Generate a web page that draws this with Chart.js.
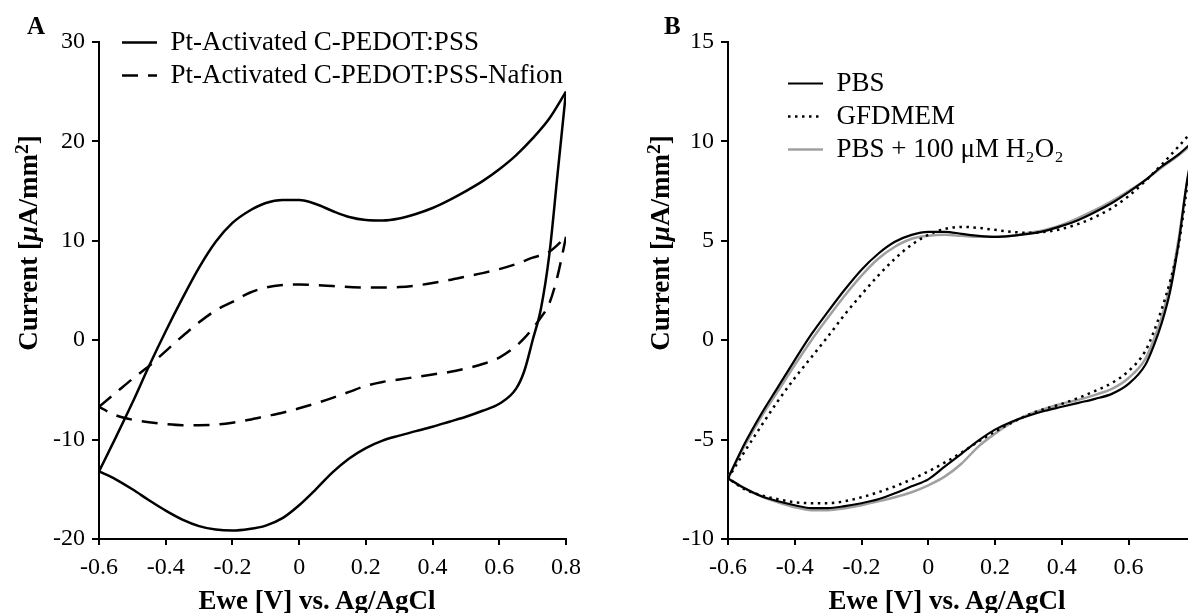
<!DOCTYPE html>
<html>
<head>
<meta charset="utf-8">
<title>Cyclic voltammograms</title>
<script src="https://cdn.jsdelivr.net/npm/chart.js@4.4.1/dist/chart.umd.min.js"></script>
<style>
  html, body { margin: 0; padding: 0; background: #fff; overflow: hidden; }
  body { position: relative; width: 1188px; height: 613px; font-family: 'Liberation Serif', 'Times New Roman', serif; color: #000; }
  .panel { position: absolute; top: 0; height: 613px; }
  #panelA { left: 0; width: 590px; }
  #panelB { left: 600px; width: 588px; }
  .letter { position: absolute; font-weight: bold; font-size: 25px; line-height: 1; }
  .ytitle, .xtitle { position: absolute; white-space: nowrap; font-weight: bold; font-size: 27px; line-height: 1; }
  .ytitle { transform: translate(-50%, -50%) rotate(-90deg); }
  .xtitle { transform: translate(-50%, -50%); }
  .ytitle sup { font-size: 0.72em; position: relative; top: -0.15em; vertical-align: top; }
</style>
</head>
<body>
<div class="panel" id="panelA"><canvas id="chartA" width="590" height="613"></canvas></div>
<div class="panel" id="panelB"><canvas id="chartB" width="588" height="613"></canvas></div>
<div class="letter" style="left:27px; top:13px">A</div>
<div class="letter" style="left:664px; top:13px">B</div>
<div class="ytitle" style="left:28px; top:243px">Current [<i>μ</i>A/mm<sup>2</sup>]</div>
<div class="ytitle" style="left:660px; top:243px">Current [<i>μ</i>A/mm<sup>2</sup>]</div>
<div class="xtitle" style="left:317px; top:600px">Ewe [V] vs. Ag/AgCl</div>
<div class="xtitle" style="left:947px; top:600px">Ewe [V] vs. Ag/AgCl</div>

<script>
// Potential steps (V vs Ag/AgCl): anodic sweep and cathodic sweep
const vForward = [-0.6, -0.55, -0.5, -0.45, -0.4, -0.35, -0.3, -0.25, -0.2, -0.15, -0.1, -0.05, 0,
                  0.05, 0.1, 0.15, 0.2, 0.25, 0.3, 0.35, 0.4, 0.45, 0.5, 0.55, 0.6, 0.65, 0.7, 0.75, 0.8];
const vReverse = [0.8, 0.775, 0.75, 0.725, 0.7, 0.675, 0.65, 0.6, 0.55, 0.5, 0.45, 0.4, 0.35, 0.3, 0.25, 0.2,
                  0.15, 0.1, 0.05, 0, -0.05, -0.1, -0.15, -0.2, -0.25, -0.3, -0.35, -0.4, -0.45, -0.5, -0.55, -0.6];

// Panel A currents (uA/mm2)
const pedotFwd = [-13.2, -9.8, -6.3, -2.6, 0.9, 4.2, 7.3, 9.9, 11.8, 13.0, 13.8, 14.1, 14.1,
                  13.7, 13.0, 12.4, 12.1, 12.05, 12.25, 12.7, 13.3, 14.1, 15.0, 16.0, 17.2, 18.6, 20.3, 22.3, 25.0];
const pedotRev = [25.0, 16.8, 8.6, 3.2, 0.0, -3.1, -4.9, -6.4, -7.1, -7.7, -8.2, -8.7, -9.15, -9.6, -10.1, -10.85,
                  -11.9, -13.3, -15.0, -16.6, -17.9, -18.65, -19.0, -19.15, -19.05, -18.7, -18.05, -17.15, -16.1, -15.0, -14.0, -13.2];
const nafionFwd = [-6.7, -5.3, -3.9, -2.6, -1.1, 0.4, 1.8, 3.0, 3.85, 4.75, 5.3, 5.55, 5.6,
                   5.55, 5.45, 5.35, 5.3, 5.3, 5.35, 5.5, 5.75, 6.05, 6.4, 6.75, 7.15, 7.65, 8.3, 8.9, 10.4];
const nafionRev = [10.4, 6.5, 3.7, 2.3, 1.2, 0.2, -0.6, -1.75, -2.4, -2.85, -3.2, -3.45, -3.7, -3.95, -4.2, -4.6,
                   -5.2, -5.8, -6.35, -6.85, -7.3, -7.65, -8.0, -8.3, -8.5, -8.55, -8.55, -8.45, -8.25, -8.0, -7.55, -6.7];

// Panel B currents (uA/mm2)
const pbsFwd = [-6.95, -5.2, -3.7, -2.35, -1.0, 0.3, 1.45, 2.55, 3.55, 4.35, 4.95, 5.3, 5.45,
                5.45, 5.35, 5.25, 5.2, 5.25, 5.35, 5.5, 5.75, 6.05, 6.45, 6.9, 7.45, 8.05, 8.75, 9.35, 10.1];
const pbsRev = [10.1, 8.0, 4.9, 2.5, 0.9, -0.3, -1.25, -2.2, -2.7, -2.95, -3.15, -3.35, -3.55, -3.8, -4.1, -4.5,
                -5.05, -5.7, -6.35, -7.0, -7.35, -7.7, -8.0, -8.2, -8.35, -8.45, -8.45, -8.3, -8.1, -7.85, -7.45, -6.95];
const gfdmemFwd = [-6.95, -5.6, -4.3, -3.05, -1.9, -0.85, 0.2, 1.3, 2.3, 3.25, 4.1, 4.8, 5.3,
                   5.6, 5.7, 5.65, 5.55, 5.45, 5.4, 5.45, 5.6, 5.85, 6.2, 6.65, 7.25, 8.0, 8.85, 9.75, 10.7];
const gfdmemRev = [10.7, 7.7, 4.8, 3.0, 1.6, 0.4, -0.55, -1.55, -2.15, -2.55, -2.9, -3.2, -3.45, -3.75, -4.15, -4.6,
                   -5.1, -5.65, -6.15, -6.6, -7.0, -7.35, -7.65, -7.9, -8.1, -8.2, -8.2, -8.15, -8.0, -7.8, -7.5, -6.95];
const h2o2Fwd = [-6.95, -5.3, -3.85, -2.55, -1.25, 0.0, 1.15, 2.25, 3.25, 4.1, 4.7, 5.1, 5.25,
                 5.3, 5.25, 5.2, 5.2, 5.25, 5.4, 5.55, 5.8, 6.15, 6.55, 7.0, 7.5, 8.05, 8.7, 9.3, 10.0];
const h2o2Rev = [10.0, 7.9, 5.1, 2.8, 1.2, 0.0, -0.95, -1.9, -2.45, -2.75, -3.0, -3.2, -3.45, -3.75, -4.15, -4.7,
                 -5.35, -6.2, -6.85, -7.3, -7.65, -7.9, -8.1, -8.3, -8.45, -8.55, -8.55, -8.4, -8.15, -7.85, -7.45, -6.95];

// Tick values
const ticksXA = [-0.6, -0.4, -0.2, 0, 0.2, 0.4, 0.6, 0.8];
const ticksYA = [-20, -10, 0, 10, 20, 30];
const ticksXB = [-0.6, -0.4, -0.2, 0, 0.2, 0.4, 0.6];
const ticksYB = [-10, -5, 0, 5, 10, 15];

const serif = 'Liberation Serif';

function toPoints(v, i) {
    return v.map((x, k) => ({ x: x, y: i[k] }));
}

// one CV loop = anodic + cathodic sweep (split so the vertex stays sharp)
function cvLoop(label, fwd, rev, style) {
    return [
        Object.assign({ label: label, data: toPoints(vForward, fwd) }, style),
        Object.assign({ label: label, data: toPoints(vReverse, rev), hideInLegend: true }, style)
    ];
}

function fmt(v) {
    return String(Number(Number(v).toFixed(1)));
}

// legend samples should copy the dataset line (dash, width)
function legendItems(chart) {
    return Chart.defaults.plugins.legend.labels.generateLabels(chart)
        .filter(item => !chart.data.datasets[item.datasetIndex].hideInLegend)
        .map(item => {
            const ds = chart.data.datasets[item.datasetIndex];
            item.lineDash = ds.borderDash || [];
            item.lineWidth = ds.borderWidth;
            item.strokeStyle = ds.borderColor;
            return item;
        });
}

// put the legend where the figure has it
function legendAt(left, top) {
    return {
        id: 'legendAt',
        afterLayout(chart) {
            const lg = chart.legend;
            lg.left = left;
            lg.top = top;
            lg.right = left + lg.width;
            lg.bottom = top + 400;
        }
    };
}

function makeChart(canvasId, datasets, cfg) {
    return new Chart(document.getElementById(canvasId), {
        type: 'scatter',
        data: { datasets: datasets },
        options: {
            animation: false,
            responsive: false,
            showLine: true,
            layout: { padding: { top: 42, right: cfg.padRight, bottom: 0, left: 0 } },
            elements: {
                point: { radius: 0, hoverRadius: 0 },
                line: { cubicInterpolationMode: 'monotone', fill: false }
            },
            scales: {
                x: {
                    type: 'linear',
                    min: cfg.xMin,
                    max: cfg.xMax,
                    afterBuildTicks: s => { s.ticks = cfg.xTicks.map(v => ({ value: v })); },
                    afterFit: s => { s.height = 74; },
                    ticks: { font: { family: serif, size: 24 }, color: '#000', padding: 8, autoSkip: false, maxRotation: 0, callback: fmt },
                    grid: { drawOnChartArea: false, color: '#000', lineWidth: 2, tickLength: 6 },
                    border: { color: '#000', width: 2 }
                },
                y: {
                    type: 'linear',
                    min: cfg.yMin,
                    max: cfg.yMax,
                    afterBuildTicks: s => { s.ticks = cfg.yTicks.map(v => ({ value: v })); },
                    afterFit: s => { s.width = cfg.yWidth; },
                    ticks: { font: { family: serif, size: 24 }, color: '#000', padding: 7, autoSkip: false, callback: fmt },
                    grid: { drawOnChartArea: false, color: '#000', lineWidth: 2, tickLength: 7 },
                    border: { color: '#000', width: 2 }
                }
            },
            plugins: {
                legend: {
                    position: 'chartArea',
                    align: 'start',
                    labels: {
                        color: '#000',
                        font: { family: serif, size: 27 },
                        usePointStyle: true,
                        pointStyle: 'line',
                        pointStyleWidth: 35,
                        padding: 6,
                        generateLabels: legendItems
                    }
                },
                tooltip: { enabled: false }
            }
        },
        plugins: [legendAt(cfg.legendLeft, cfg.legendTop)]
    });
}

const solid = { borderColor: '#000', borderWidth: 2.5 };
const dashed = { borderColor: '#000', borderWidth: 2.5, borderDash: [16, 10] };

makeChart('chartA', [
    ...cvLoop('Pt-Activated C-PEDOT:PSS', pedotFwd, pedotRev, solid),
    ...cvLoop('Pt-Activated C-PEDOT:PSS-Nafion', nafionFwd, nafionRev, dashed)
], {
    xMin: -0.6, xMax: 0.8, xTicks: ticksXA,
    yMin: -20, yMax: 30, yTicks: ticksYA,
    yWidth: 99, padRight: 24,
    legendLeft: 116, legendTop: 23
});

makeChart('chartB', [
    ...cvLoop('PBS', pbsFwd, pbsRev, { borderColor: '#000', borderWidth: 2.2 }),
    ...cvLoop('GFDMEM', gfdmemFwd, gfdmemRev, { borderColor: '#000', borderWidth: 2.5, borderDash: [2.5, 4.5] }),
    ...cvLoop('PBS + 100 μM H₂O₂', h2o2Fwd, h2o2Rev, { borderColor: '#a0a0a0', borderWidth: 2.5 })
], {
    xMin: -0.6, xMax: 0.778, xTicks: ticksXB,
    yMin: -10, yMax: 15, yTicks: ticksYB,
    yWidth: 128, padRight: 0,
    legendLeft: 182, legendTop: 64
});
</script>
</body>
</html>
